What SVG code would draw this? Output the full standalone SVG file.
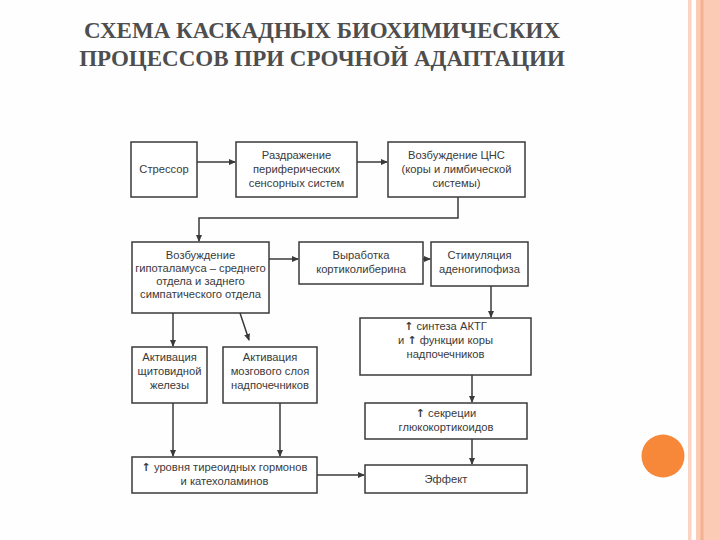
<svg xmlns="http://www.w3.org/2000/svg" width="720" height="540" viewBox="0 0 720 540">
<style>
.box{fill:#fff;stroke:#3a3a3a;stroke-width:1.5}
.t{font-family:"Liberation Sans",Arial,sans-serif;font-size:11.2px;fill:#3a3a3a;text-anchor:middle}
.ar{font-family:"DejaVu Sans",sans-serif;font-weight:bold;font-size:11px}
.ttl{font-family:"Liberation Serif","Times New Roman",serif;font-weight:bold;font-size:23px;fill:#4e4e4e;text-anchor:middle}
.c{fill:none;stroke:#3a3a3a;stroke-width:1.5}
</style>
<defs>
<marker id="ah" markerWidth="7" markerHeight="7" refX="6" refY="3.5" orient="auto" markerUnits="userSpaceOnUse">
<path d="M0,0.5 L7,3.5 L0,6.5 Z" fill="#3a3a3a"/>
</marker>
</defs>
<rect width="720" height="540" fill="#fefefe"/>
<g id="border">
<rect x="688" y="0" width="3.5" height="540" fill="#fbd3c2"/>
<rect x="696" y="0" width="24" height="540" fill="#fccbb6"/>
<rect x="700.5" y="0" width="3" height="540" fill="#f2b291"/>
<circle cx="663" cy="456" r="21.5" fill="#f7883a"/>
</g>
<g id="title">
<text class="ttl" x="322" y="38">СХЕМА КАСКАДНЫХ БИОХИМИЧЕСКИХ</text>
<text class="ttl" x="322" y="66">ПРОЦЕССОВ ПРИ СРОЧНОЙ АДАПТАЦИИ</text>
</g>
<g id="connectors">
<path class="c" d="M197,162 H235" marker-end="url(#ah)"/>
<path class="c" d="M357,162 H387" marker-end="url(#ah)"/>
<path class="c" d="M458,197 V218 H199 V241" marker-end="url(#ah)"/>
<path class="c" d="M269,259 H298" marker-end="url(#ah)"/>
<path class="c" d="M423,259 H430" marker-end="url(#ah)"/>
<path class="c" d="M491,286 V317" marker-end="url(#ah)"/>
<path class="c" d="M472,375 V402" marker-end="url(#ah)"/>
<path class="c" d="M472,439 V464" marker-end="url(#ah)"/>
<path class="c" d="M173,313 V346" marker-end="url(#ah)"/>
<path class="c" d="M240,313 L249,340" marker-end="url(#ah)"/>
<path class="c" d="M173,403 V456" marker-end="url(#ah)"/>
<path class="c" d="M280,403 V456" marker-end="url(#ah)"/>
<path class="c" d="M317,475 H364" marker-end="url(#ah)"/>
</g>
<g id="n1"><rect class="box" x="131" y="142" width="66" height="55"/><text class="t" x="164" y="173">Стрессор</text></g>
<g id="n2"><rect class="box" x="236" y="142" width="121" height="55"/><text class="t" x="296.5" y="159">Раздражение</text><text class="t" x="296.5" y="173">периферических</text><text class="t" x="296.5" y="187">сенсорных систем</text></g>
<g id="n3"><rect class="box" x="388" y="142" width="137" height="55"/><text class="t" x="456.5" y="159">Возбуждение ЦНС</text><text class="t" x="456.5" y="173">(коры и лимбической</text><text class="t" x="456.5" y="187">системы)</text></g>
<g id="n4"><rect class="box" x="132" y="242" width="137" height="71"/><text class="t" x="200.5" y="259">Возбуждение</text><text class="t" x="200.5" y="272">гипоталамуса – среднего</text><text class="t" x="200.5" y="285">отдела и заднего</text><text class="t" x="200.5" y="298">симпатического отдела</text></g>
<g id="n5"><rect class="box" x="299" y="242" width="124" height="42"/><text class="t" x="361" y="259">Выработка</text><text class="t" x="361" y="273">кортиколиберина</text></g>
<g id="n6"><rect class="box" x="431" y="242" width="97" height="44"/><text class="t" x="479.5" y="259">Стимуляция</text><text class="t" x="479.5" y="273">аденогипофиза</text></g>
<g id="n7"><rect class="box" x="360" y="318" width="171" height="57"/><text class="t" x="445.5" y="330"><tspan class="ar">↑</tspan> синтеза АКТГ</text><text class="t" x="445.5" y="344">и <tspan class="ar">↑</tspan> функции коры</text><text class="t" x="445.5" y="358">надпочечников</text></g>
<g id="n8"><rect class="box" x="365" y="403" width="162" height="36"/><text class="t" x="446" y="417"><tspan class="ar">↑</tspan> секреции</text><text class="t" x="446" y="431">глюкокортикоидов</text></g>
<g id="n9"><rect class="box" x="365" y="465" width="162" height="28"/><text class="t" x="446" y="483">Эффект</text></g>
<g id="n10"><rect class="box" x="132" y="347" width="75" height="56"/><text class="t" x="169.5" y="361">Активация</text><text class="t" x="169.5" y="375">щитовидной</text><text class="t" x="169.5" y="389">железы</text></g>
<g id="n11"><rect class="box" x="223" y="347" width="94" height="56"/><text class="t" x="270" y="361">Активация</text><text class="t" x="270" y="375">мозгового слоя</text><text class="t" x="270" y="389">надпочечников</text></g>
<g id="n12"><rect class="box" x="132" y="457" width="185" height="36"/><text class="t" x="224.5" y="471"><tspan class="ar">↑</tspan> уровня тиреоидных гормонов</text><text class="t" x="224.5" y="485">и катехоламинов</text></g>
</svg>
